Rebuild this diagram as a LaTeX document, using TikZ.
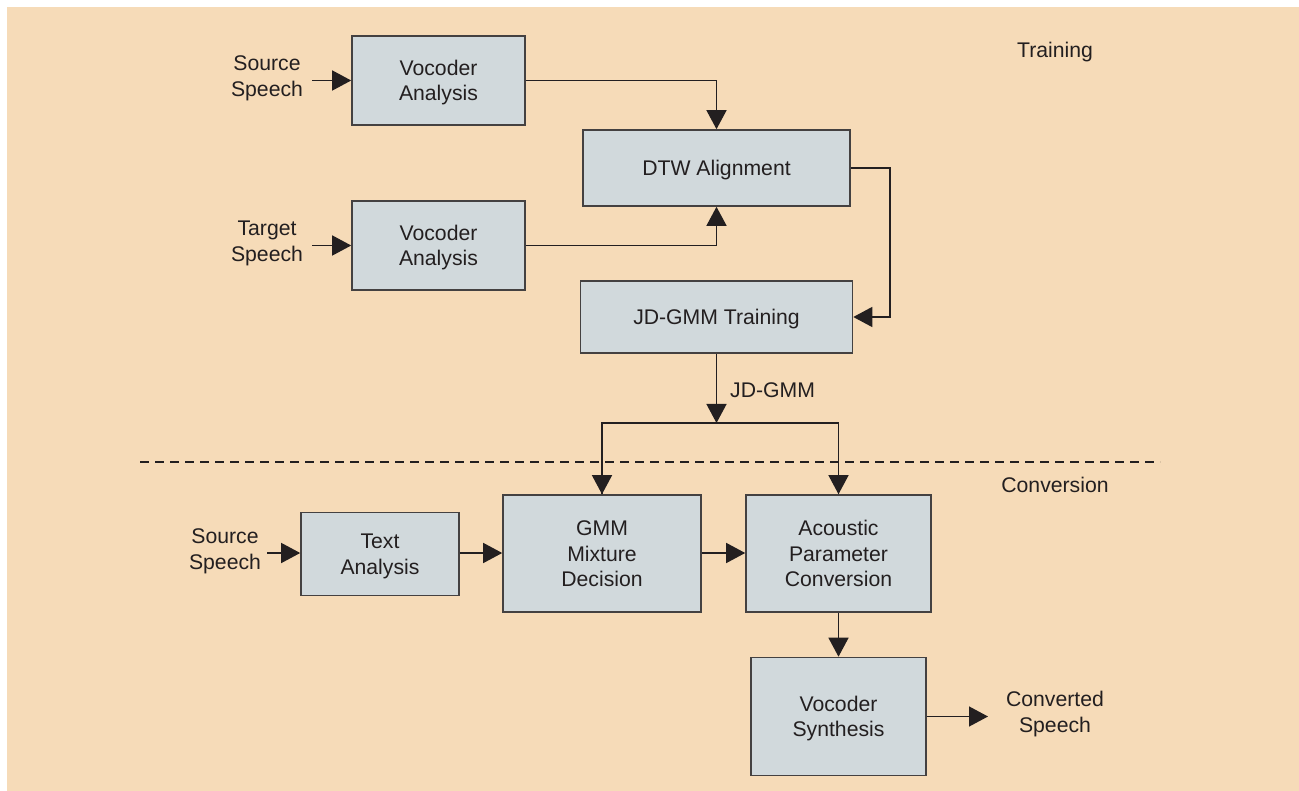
\documentclass[tikz,border=0pt]{standalone}
\usepackage{fontspec}
\setmainfont{Liberation Sans}
\usetikzlibrary{arrows.meta}
\definecolor{panel}{HTML}{F6DBB8}
\definecolor{boxfill}{HTML}{D1D9DC}
\definecolor{ink}{HTML}{231F20}
% centred stack of lines, lowered (keeping its size) so the capitals sit mid-box
\newcommand{\stk}[1]{\raisebox{-2.6pt}[\height][\depth]{\begin{tabular}{@{}c@{}}#1\end{tabular}}}
\tikzset{
  txt/.style={text=ink, font=\fontsize{21.2}{25.5}\selectfont},
  block/.style={txt, draw=ink!85, line width=1.6pt, fill=boxfill, inner sep=0pt},
  lbl/.style={txt, inner sep=0pt},
  flow/.style={draw=ink, line width=1.4pt, -{Triangle[length=19pt,width=20pt]}},
  wire/.style={draw=ink, line width=1.4pt}
}
\begin{document}
\begin{tikzpicture}[x=1pt,y=-1pt]
\useasboundingbox (0,0) rectangle (1299,791);
\fill[white] (0,0) rectangle (1299,791);
\fill[panel] (7,7) rectangle (1299,791);

% training blocks
\node[block, minimum width=173pt, minimum height=89pt] (va1) at (438.5,80.5) {\stk{Vocoder\\Analysis}};
\node[block, minimum width=173pt, minimum height=89pt] (va2) at (438.5,245.5) {\stk{Vocoder\\Analysis}};
\node[block, minimum width=267pt, minimum height=76pt] (dtw) at (716.5,168) {\stk{DTW Alignment}};
\node[block, minimum width=272pt, minimum height=72pt] (jd) at (716.5,317) {\stk{JD-GMM Training}};

% conversion blocks
\node[block, minimum width=158pt, minimum height=83pt] (ta) at (380,554) {\stk{Text\\Analysis}};
\node[block, minimum width=198pt, minimum height=117pt] (gmm) at (602,553.5) {\stk{GMM\\Mixture\\Decision}};
\node[block, minimum width=185pt, minimum height=117pt] (apc) at (838.5,553.5) {\stk{Acoustic\\Parameter\\Conversion}};
\node[block, minimum width=175pt, minimum height=118pt] (vs) at (838.5,716.5) {\stk{Vocoder\\Synthesis}};

% free labels
\node[lbl] (src1) at (267,76) {\stk{Source\\Speech}};
\node[lbl] (tgt) at (267,241) {\stk{Target\\Speech}};
\node[lbl] (src2) at (225,549) {\stk{Source\\Speech}};
\node[lbl] (conv) at (1055,712) {\stk{Converted\\Speech}};
\node[lbl] (train) at (1055,50) {\stk{Training}};
\node[lbl] (convlbl) at (1055,485) {\stk{Conversion}};
\node[lbl, anchor=west] (jdlbl) at (730,390) {\stk{JD-GMM}};

% helper points
\coordinate (s1) at (312,80.5);
\coordinate (t1) at (312,245.5);
\coordinate (s2) at (267,553);
\coordinate (split) at (716.5,423);
\coordinate (out) at (988,716.5);

% training connectors
\draw[flow] (s1) -- (va1.west);
\draw[flow] (t1) -- (va2.west);
\draw[flow] (va1.east) -| (dtw.north);
\draw[flow] (va2.east) -| (dtw.south);
\draw[flow] (dtw.east) -- ++(39,0) |- (jd.east);
\draw[flow] (jd.south) -- (split);
\draw[wire] (split) -| (gmm.north);
\draw[wire] (split) -| (apc.north);
\draw[flow] (602,423) -- (gmm.north);
\draw[flow] (838.5,423) -- (apc.north);

% separator
\draw[ink, line width=1.1pt, dash pattern=on 9pt off 6pt] (140,462) -- (1160,462);

% conversion connectors
\draw[flow] (s2) -- (ta.west |- s2);
\draw[flow] (ta.east |- s2) -- (gmm.west |- s2);
\draw[flow] (gmm.east |- s2) -- (apc.west |- s2);
\draw[flow] (apc.south) -- (vs.north);
\draw[flow] (vs.east) -- (out);
\end{tikzpicture}
\end{document}
